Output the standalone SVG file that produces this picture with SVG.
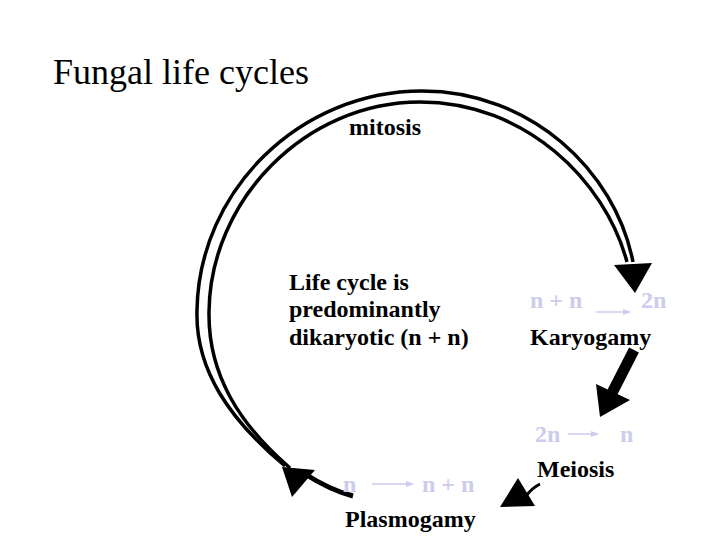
<svg xmlns="http://www.w3.org/2000/svg" width="720" height="540" viewBox="0 0 720 540">
<defs>
<style>
.t{font-family:"Liberation Serif","Times New Roman",serif;fill:#000}
.b{font-family:"Liberation Serif","Times New Roman",serif;font-weight:bold;font-size:24px;fill:#000}
.p{font-family:"Liberation Serif","Times New Roman",serif;font-weight:bold;font-size:24px;fill:#ccccee}
.arc{fill:none;stroke:#000;stroke-width:3.5}
.pa{stroke:#ccccee;stroke-width:1.5;fill:none}
.head{fill:#000}
</style>
<marker id="pm" markerWidth="8" markerHeight="6" refX="7" refY="3" orient="auto" markerUnits="userSpaceOnUse">
<path d="M0,0 L8,3 L0,6 Z" fill="#ccccee"/>
</marker>
</defs>
<rect width="720" height="540" fill="#fff"/>
<text id="title" class="t" x="53" y="84" font-size="36">Fungal life cycles</text>
<g id="connectors">
<path class="arc" d="M285,466 C230,420 195,370 197,310 C199,190 300,91 422,91 C530,91 615,170 633,262"/>
<path class="arc" d="M290,468 C240,425 208,375 209,312 C210,200 305,102 420,102 C525,102 605,180 627,262"/>
<polygon class="head" points="614,265 652,263 635,293"/>
<line x1="634" y1="350" x2="612" y2="393" stroke="#000" stroke-width="11"/>
<polygon class="head" points="596,384 630,400 600,417"/>
<path d="M540,484 Q532,488 526,496" stroke="#000" stroke-width="3" fill="none"/>
<polygon class="head" points="518,478 500,507 535,506"/>
<path d="M353,496 Q330,490 305,474" stroke="#000" stroke-width="5" fill="none"/>
<polygon class="head" points="282,467 315,470 292,497"/>
<line class="pa" x1="596" y1="312" x2="630" y2="312" marker-end="url(#pm)"/>
<line class="pa" x1="568" y1="434" x2="598" y2="434" marker-end="url(#pm)"/>
<line class="pa" x1="372" y1="484" x2="413" y2="484" marker-end="url(#pm)"/>
</g>
<g id="mitosis"><text class="b" x="349" y="135">mitosis</text></g>
<g id="dikaryotic">
<text class="b" x="289" y="290">Life cycle is</text>
<text class="b" x="289" y="317">predominantly</text>
<text class="b" x="289" y="345">dikaryotic (n + n)</text>
</g>
<g id="karyogamy">
<text class="p" x="530" y="308">n + n</text>
<text class="p" x="641" y="308">2n</text>
<text class="b" x="530" y="345">Karyogamy</text>
</g>
<g id="meiosis">
<text class="p" x="535" y="442">2n</text>
<text class="p" x="620" y="442">n</text>
<text class="b" x="537" y="477">Meiosis</text>
</g>
<g id="plasmogamy">
<text class="p" x="343" y="492">n</text>
<text class="p" x="422" y="492">n + n</text>
<text class="b" x="345" y="527">Plasmogamy</text>
</g>
</svg>
